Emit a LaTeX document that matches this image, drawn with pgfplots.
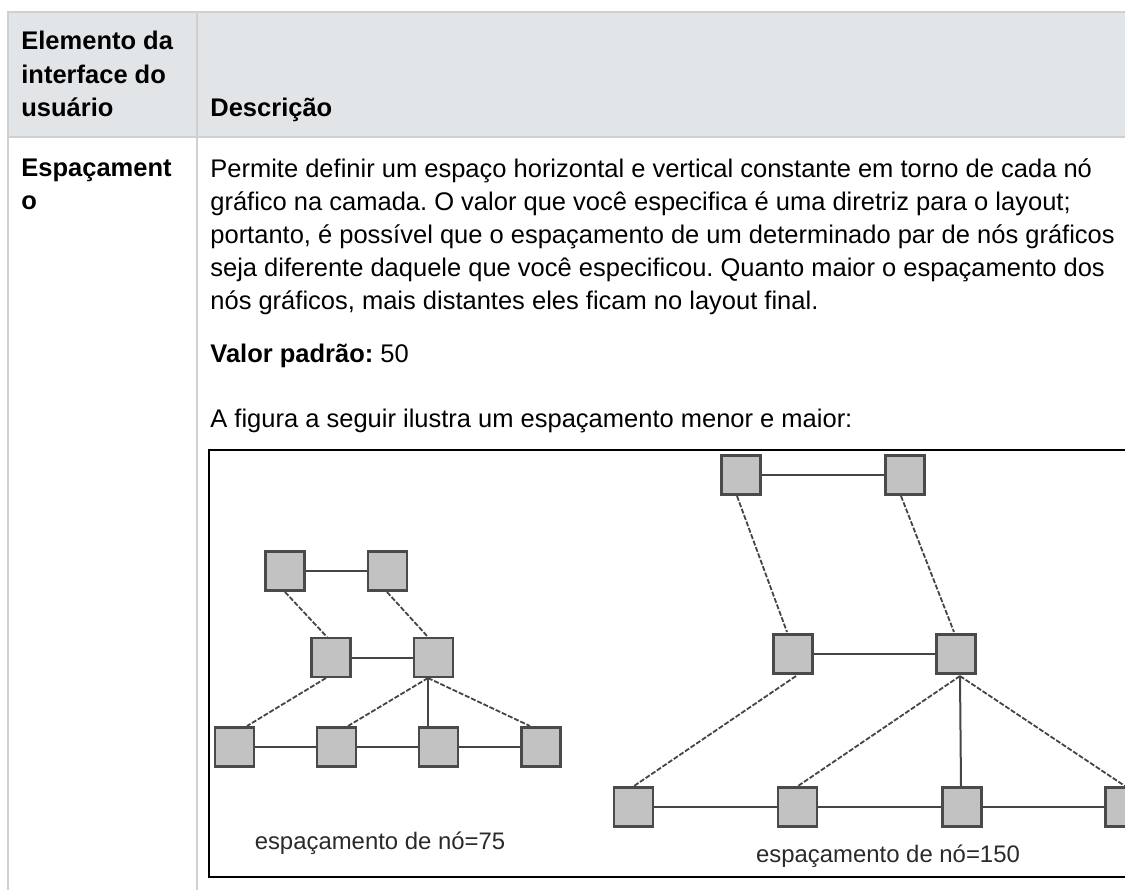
\documentclass[border=0pt]{standalone}
\usepackage{pgfplots}
\pgfplotsset{compat=1.18}
\usepackage{fontspec}
\setmainfont{Liberation Sans}
\frenchspacing
\definecolor{bordergray}{HTML}{D0D0D0}
\definecolor{headbg}{HTML}{E1E5E7}
\definecolor{nodefill}{HTML}{C2C2C2}
\definecolor{nodedraw}{HTML}{4A4A4A}
\definecolor{edgecol}{HTML}{454545}
\definecolor{labcol}{HTML}{2A2A2A}
\newcommand{\bodyfont}{\fontsize{12.75}{16.5}\selectfont}
\newcommand{\labfont}{\fontsize{11.95}{14}\selectfont}
\begin{document}
\begin{tikzpicture}
\useasboundingbox (0,0) rectangle (562.5pt,445pt);
\begin{axis}[
  at={(0,0)}, anchor=south west,
  width=562.5pt, height=445pt, scale only axis,
  xmin=0, xmax=1125, ymin=0, ymax=890, y dir=reverse,
  hide axis, clip=false,
]
% header background
\addplot[fill=headbg, draw=none] coordinates {(8,12) (1125,12) (1125,137) (8,137)} -- cycle;
% table borders
\addplot[draw=bordergray, line width=1.1pt] coordinates {(8,890) (8,12) (1125,12)};
\addplot[draw=bordergray, line width=1.1pt] coordinates {(8,137) (1125,137)};
\addplot[draw=bordergray, line width=1.1pt] coordinates {(197,12) (197,890)};
% figure box
\addplot[draw=black, line width=1pt] coordinates {(1125,450) (209,450) (209,877) (1125,877)};

% ---- small graph edges
\addplot[draw=edgecol, line width=1pt] coordinates {(285,571) (387.5,571)};
\addplot[draw=edgecol, line width=1pt] coordinates {(331,657.5) (433.5,657.5)};
\addplot[draw=edgecol, line width=1pt] coordinates {(234.5,747) (541,747)};
\addplot[draw=edgecol, line width=0.8pt] coordinates {(428,678) (428,726)};
\addplot[draw=edgecol, line width=0.9pt, dash pattern=on 2.5pt off 0.9pt] coordinates {(285,592) (327,637)};
\addplot[draw=edgecol, line width=0.9pt, dash pattern=on 2.5pt off 0.9pt] coordinates {(387,592) (428,637)};
\addplot[draw=edgecol, line width=0.9pt, dash pattern=on 2.5pt off 0.9pt] coordinates {(326,678) (247,726)};
\addplot[draw=edgecol, line width=0.9pt, dash pattern=on 2.5pt off 0.9pt] coordinates {(428,678) (348,726)};
\addplot[draw=edgecol, line width=0.9pt, dash pattern=on 2.5pt off 0.9pt] coordinates {(428,678) (530,726)};
% small graph nodes
\addplot[only marks, mark=square*, mark size=9.8pt,
  mark options={fill=nodefill, draw=nodedraw, line width=1.2pt}]
  coordinates {(285,571) (387.5,571) (331,657.5) (433.5,657.5)
               (234.5,747) (336.5,747) (438.5,747) (541,747)};

% ---- big graph edges
\addplot[draw=edgecol, line width=0.8pt] coordinates {(741,475) (905,475)};
\addplot[draw=edgecol, line width=0.8pt] coordinates {(793,654) (956,654)};
\addplot[draw=edgecol, line width=1pt] coordinates {(633.5,807) (1125,807)};
\addplot[draw=edgecol, line width=1pt] coordinates {(960,676) (961,786)};
\addplot[draw=edgecol, line width=0.9pt, dash pattern=on 2.5pt off 0.9pt] coordinates {(737,496) (787,632)};
\addplot[draw=edgecol, line width=0.9pt, dash pattern=on 2.5pt off 0.9pt] coordinates {(901,496) (954,632)};
\addplot[draw=edgecol, line width=0.9pt, dash pattern=on 2.5pt off 0.9pt] coordinates {(796,676) (634,786)};
\addplot[draw=edgecol, line width=0.9pt, dash pattern=on 2.5pt off 0.9pt] coordinates {(960,676) (798,786)};
\addplot[draw=edgecol, line width=0.9pt, dash pattern=on 2.5pt off 0.9pt] coordinates {(960,676) (1125,786)};
% big graph nodes
\addplot[only marks, mark=square*, mark size=9.8pt,
  mark options={fill=nodefill, draw=nodedraw, line width=1.2pt}]
  coordinates {(741,475) (905,475) (793,654) (956,654)
               (633.5,807) (797.5,807) (962,807) (1125,807)};

% ---- texts
\node[anchor=base west, inner sep=0pt, font=\bodyfont\bfseries] at (axis cs:21,49) {Elemento da};
\node[anchor=base west, inner sep=0pt, font=\bodyfont\bfseries] at (axis cs:21,83) {interface do};
\node[anchor=base west, inner sep=0pt, font=\bodyfont\bfseries] at (axis cs:21,116) {usuário};
\node[anchor=base west, inner sep=0pt, font=\bodyfont\bfseries] at (axis cs:210,116) {Descrição};
\node[anchor=base west, inner sep=0pt, font=\bodyfont\bfseries] at (axis cs:21,176) {Espaçament};
\node[anchor=base west, inner sep=0pt, font=\bodyfont\bfseries] at (axis cs:21,209) {o};

\node[anchor=base west, inner sep=0pt, font=\bodyfont] at (axis cs:210,177) {Permite definir um espaço horizontal e vertical constante em torno de cada nó};
\node[anchor=base west, inner sep=0pt, font=\bodyfont] at (axis cs:210,210) {gráfico na camada. O valor que você especifica é uma diretriz para o layout;};
\node[anchor=base west, inner sep=0pt, font=\bodyfont] at (axis cs:210,243) {portanto, é possível que o espaçamento de um determinado par de nós gráficos};
\node[anchor=base west, inner sep=0pt, font=\bodyfont] at (axis cs:210,276) {seja diferente daquele que você especificou. Quanto maior o espaçamento dos};
\node[anchor=base west, inner sep=0pt, font=\bodyfont] at (axis cs:210,309) {nós gráficos, mais distantes eles ficam no layout final.};
\node[anchor=base west, inner sep=0pt, font=\bodyfont] at (axis cs:210,362) {\textbf{Valor padrão:} 50};
\node[anchor=base west, inner sep=0pt, font=\bodyfont] at (axis cs:210,427) {A figura a seguir ilustra um espaçamento menor e maior:};

\node[anchor=base, inner sep=0pt, font=\labfont, text=labcol] at (axis cs:380,849) {espaçamento de nó=75};
\node[anchor=base, inner sep=0pt, font=\labfont, text=labcol] at (axis cs:888,862) {espaçamento de nó=150};
\end{axis}
\end{tikzpicture}
\end{document}
